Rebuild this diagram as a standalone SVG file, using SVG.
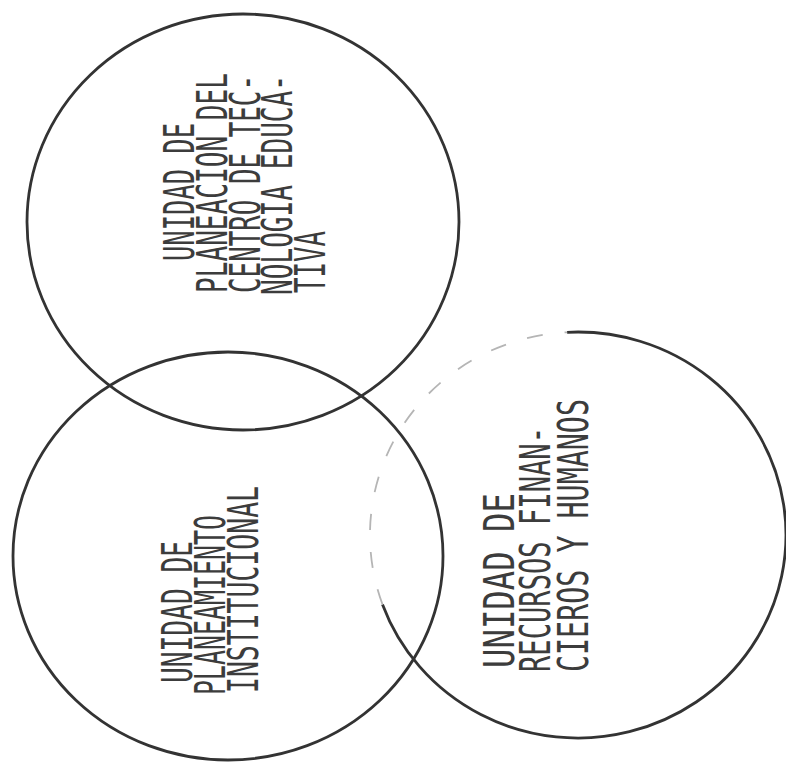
<svg xmlns="http://www.w3.org/2000/svg" width="786" height="763" viewBox="0 0 786 763">
<style>
.c{fill:none;stroke:#333;stroke-width:2.8}
.f{fill:none;stroke:#b5b5b5;stroke-width:1.8;stroke-dasharray:16 22}
.t{font-family:"DejaVu Sans Mono","Liberation Mono",monospace;font-size:43px;fill:#3c3c3c}
</style>
<rect width="786" height="763" fill="#fff"/>
<g id="n1">
<ellipse class="c" cx="243" cy="222" rx="216" ry="208"/>
<g transform="rotate(-90)" class="t">
<text x="-261" y="194" textLength="138" lengthAdjust="spacingAndGlyphs">UNIDAD DE</text>
<text x="-293" y="227" textLength="220" lengthAdjust="spacingAndGlyphs">PLANEACION DEL</text>
<text x="-293" y="260" textLength="218" lengthAdjust="spacingAndGlyphs">CENTRO DE TEC-</text>
<text x="-295" y="292" textLength="220" lengthAdjust="spacingAndGlyphs">NOLOGIA EDUCA-</text>
<text x="-293" y="325" textLength="62" lengthAdjust="spacingAndGlyphs">TIVA</text>
</g>
</g>
<g id="n2">
<ellipse class="c" cx="228" cy="556" rx="215" ry="204"/>
<g transform="rotate(-90)" class="t">
<text x="-683" y="192" textLength="142" lengthAdjust="spacingAndGlyphs">UNIDAD DE</text>
<text x="-695" y="225" textLength="180" lengthAdjust="spacingAndGlyphs">PLANEAMIENTO</text>
<text x="-693" y="258" textLength="207" lengthAdjust="spacingAndGlyphs">INSTITUCIONAL</text>
</g>
</g>
<g id="n3">
<path class="c" d="M567.1,332.3 A208,203 0 1 1 382.5,604.4"/>
<path class="f" d="M382.5,604.4 A208,203 0 0 1 567.1,332.3"/>
<g transform="rotate(-90)" class="t">
<text x="-668" y="514" textLength="175" lengthAdjust="spacingAndGlyphs">UNIDAD DE</text>
<text x="-672" y="550" textLength="245" lengthAdjust="spacingAndGlyphs">RECURSOS FINAN-</text>
<text x="-672" y="588" textLength="273" lengthAdjust="spacingAndGlyphs">CIEROS Y HUMANOS</text>
</g>
</g>
<g id="connectors"></g>
</svg>
